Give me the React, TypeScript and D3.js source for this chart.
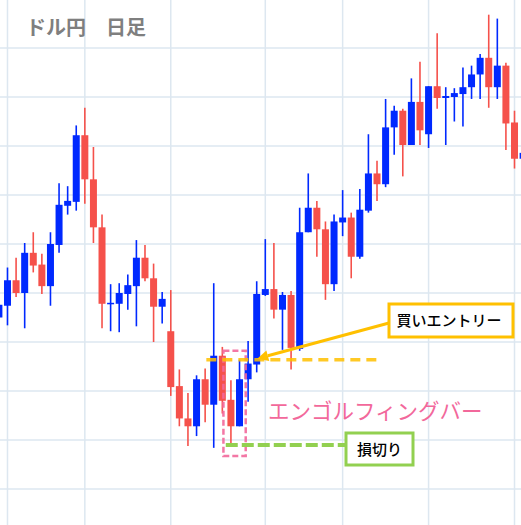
import React from "react";
import * as d3 from "d3";

// USD/JPY daily candles: open, high, low, close
const opens = [
  108.25, 108.37, 108.63, 108.5, 108.91, 108.79, 108.57, 108.99, 109.39, 109.43,
  110.11, 109.66, 109.17, 108.39, 108.39, 108.49, 108.57, 108.86, 108.65, 108.36,
  108.11, 107.55, 107.22, 107.14, 107.62, 107.36, 107.86, 107.41, 107.14, 107.62,
  107.77, 108.48, 108.54, 108.33, 108.48, 107.93, 109.12, 109.37, 109.15, 108.59,
  109.22, 109.27, 108.87, 109.34, 109.72, 109.61, 110.19, 110.36, 110.01, 110.45,
  110.12, 110.61, 110.49, 110.5, 110.53, 110.6, 110.73, 110.9, 110.6, 110.82,
  110.24, 109.87,
];
const highs = [
  108.43, 108.76, 108.86, 109.01, 109.12, 108.9, 109.12, 109.62, 109.59, 110.21,
  110.39, 109.99, 109.3, 108.59, 108.6, 108.69, 109.04, 108.99, 108.8, 108.51,
  108.53, 107.72, 107.48, 107.66, 107.73, 108.6, 107.95, 107.61, 107.82, 108.01,
  108.62, 109.05, 109.01, 108.51, 108.52, 109.37, 109.72, 109.44, 109.23, 109.3,
  109.55, 109.32, 109.56, 110.12, 109.85, 110.48, 110.41, 110.38, 110.69, 110.86,
  110.61, 111.15, 110.6, 110.59, 110.8, 110.82, 110.94, 111.34, 111.3, 110.85,
  110.36, 109.98,
];
const lows = [
  108.22, 108.17, 108.46, 108.14, 108.71, 108.49, 108.37, 108.91, 109.3, 109.34,
  109.41, 109.01, 108.14, 108.11, 108.1, 108.33, 108.16, 108.62, 108.0, 108.19,
  107.45, 107.14, 106.94, 107.04, 107.18, 106.92, 107.27, 106.96, 107.14, 107.39,
  107.69, 108.47, 108.24, 107.92, 107.72, 107.91, 109.12, 108.87, 108.43, 108.52,
  109.08, 108.65, 108.85, 109.32, 109.44, 109.58, 109.91, 109.69, 110.01, 110.01,
  109.98, 110.38, 110.01, 110.25, 110.2, 110.48, 110.48, 110.39, 110.48, 109.96,
  109.77, 109.81,
];
const closes = [
  108.38, 108.63, 108.5, 108.91, 108.78, 108.57, 109.0, 109.4, 109.44, 110.11,
  109.66, 109.17, 108.39, 108.4, 108.5, 108.58, 108.86, 108.65, 108.36, 108.44,
  107.54, 107.22, 107.14, 107.62, 107.36, 107.86, 107.4, 107.14, 107.62, 107.78,
  108.49, 108.54, 108.33, 108.48, 107.94, 109.12, 109.37, 109.15, 108.59, 109.23,
  109.27, 108.87, 109.35, 109.72, 109.61, 110.19, 110.36, 110.01, 110.45, 110.16,
  110.61, 110.49, 110.51, 110.54, 110.6, 110.73, 110.9, 110.6, 110.82, 110.23,
  109.87, 109.93,
];

// Price grid levels and candle indices carrying a vertical grid line
const priceGrid = [106.5, 107, 107.5, 108, 108.5, 109, 109.5, 110, 110.5, 111];
const dateGridIdx = [1, 10, 20, 31, 40, 50, 60];

// Trade setup around the engulfing pattern
const engulfIdx = [27, 28];
const entryPrice = 107.82;
const stopPrice = 106.95;

const titleText = "ドル円　日足";
const entryLabel = "買いエントリー";
const stopLabel = "損切り";
const patternLabel = "エンゴルフィングバー";

const W = 521;
const H = 525;
const UP = "#0029ff";
const DOWN = "#f5514b";
const GRID = "#dde7f0";
const ORANGE = "#ffc000";
const GREEN = "#92d050";
const PINK = "#f2689b";
const FONT = "'Noto Sans CJK JP', 'Noto Sans', sans-serif";

export default function App() {
  const x = d3.scaleLinear().domain([0, 61]).range([-1.1, 523.1]);
  const y = d3.scaleLinear().domain([111, 106.5]).range([48, 489]);
  const bodyW = 7;

  const candles = d3.range(opens.length).map((i) => ({
    i,
    o: opens[i],
    h: highs[i],
    l: lows[i],
    c: closes[i],
  }));

  const [ea, eb] = engulfIdx;
  const rectX0 = x(ea) - 7.5;
  const rectX1 = x(eb) + 6.2;
  const rectY0 = y(Math.max(highs[ea], highs[eb])) - 9;
  const rectY1 = y(Math.min(lows[ea], lows[eb])) + 12;

  const entryY = y(entryPrice);
  const stopY = y(stopPrice);

  // label boxes
  const entryBox = { x: 389, y: 304, w: 124, h: 33 };
  const stopBox = { x: 346, y: 433, w: 67, h: 32 };

  const arrowStart: [number, number] = [entryBox.x, entryBox.y + 19];
  const arrowEnd: [number, number] = [x(30) + 0.5, entryY - 1];
  const ang = Math.atan2(arrowEnd[1] - arrowStart[1], arrowEnd[0] - arrowStart[0]);
  const headLen = 11;
  const headW = 5.5;
  const bx = arrowEnd[0] - headLen * Math.cos(ang);
  const by = arrowEnd[1] - headLen * Math.sin(ang);
  const head = [
    arrowEnd,
    [bx + headW * Math.sin(ang), by - headW * Math.cos(ang)],
    [bx - headW * Math.sin(ang), by + headW * Math.cos(ang)],
  ];

  return (
    <svg
      width={W}
      height={H}
      style={{ position: "absolute", left: 0, top: 0, background: "#fff" }}
    >
      <rect x={0} y={0} width={W} height={H} fill="#fff" />
      <g>
        {priceGrid.map((p) => (
          <line key={"h" + p} x1={0} x2={W} y1={y(p)} y2={y(p)} stroke={GRID} strokeWidth={1.5} />
        ))}
        {dateGridIdx.map((i) => (
          <line key={"v" + i} x1={x(i)} x2={x(i)} y1={0} y2={H} stroke={GRID} strokeWidth={1.5} />
        ))}
      </g>

      <text x={26} y={35} fontFamily={FONT} fontSize={20} fontWeight={700} fill="#7f7f7f">
        {titleText}
      </text>

      <g>
        {candles.map((d) => {
          const col = d.c >= d.o ? UP : DOWN;
          const top = y(Math.max(d.o, d.c));
          const bot = y(Math.min(d.o, d.c));
          const cx = x(d.i);
          return (
            <g key={d.i}>
              <line x1={cx} x2={cx} y1={y(d.h)} y2={y(d.l)} stroke={col} strokeWidth={1.6} />
              <rect
                x={cx - bodyW / 2}
                y={top}
                width={bodyW}
                height={Math.max(1.5, bot - top)}
                fill={col}
              />
            </g>
          );
        })}
      </g>

      {/* engulfing pattern frame */}
      <rect
        x={rectX0}
        y={rectY0}
        width={rectX1 - rectX0}
        height={rectY1 - rectY0}
        fill="none"
        stroke={PINK}
        strokeWidth={2.5}
        strokeDasharray="6 3"
        opacity={0.9}
      />

      {/* entry level */}
      <line
        x1={x(24) + 1.2}
        x2={x(44.6)}
        y1={entryY}
        y2={entryY}
        stroke={ORANGE}
        strokeWidth={3.5}
        strokeDasharray="10 6"
        opacity={0.85}
      />

      {/* stop level */}
      <line
        x1={x(26.4)}
        x2={stopBox.x}
        y1={stopY}
        y2={stopY}
        stroke={GREEN}
        strokeWidth={4}
        strokeDasharray="12 4"
      />

      <line
        x1={arrowStart[0]}
        y1={arrowStart[1]}
        x2={bx}
        y2={by}
        stroke={ORANGE}
        strokeWidth={3}
      />
      <polygon points={head.map((p) => p.join(",")).join(" ")} fill={ORANGE} />

      <rect
        x={entryBox.x}
        y={entryBox.y}
        width={entryBox.w}
        height={entryBox.h}
        fill="#fff"
        stroke={ORANGE}
        strokeWidth={3}
      />
      <text
        x={entryBox.x + entryBox.w / 2 - 2}
        y={entryBox.y + 22}
        textAnchor="middle"
        fontFamily={FONT}
        fontSize={15}
        fontWeight={500}
        fill="#000"
      >
        {entryLabel}
      </text>

      <rect
        x={stopBox.x}
        y={stopBox.y}
        width={stopBox.w}
        height={stopBox.h}
        fill="#fff"
        stroke={GREEN}
        strokeWidth={3}
      />
      <text
        x={stopBox.x + stopBox.w / 2}
        y={stopBox.y + 21.5}
        textAnchor="middle"
        fontFamily={FONT}
        fontSize={15}
        fontWeight={500}
        fill="#000"
      >
        {stopLabel}
      </text>

      <text x={268} y={418.5} fontFamily={FONT} fontSize={21.5} fill={PINK}>
        {patternLabel}
      </text>
    </svg>
  );
}
